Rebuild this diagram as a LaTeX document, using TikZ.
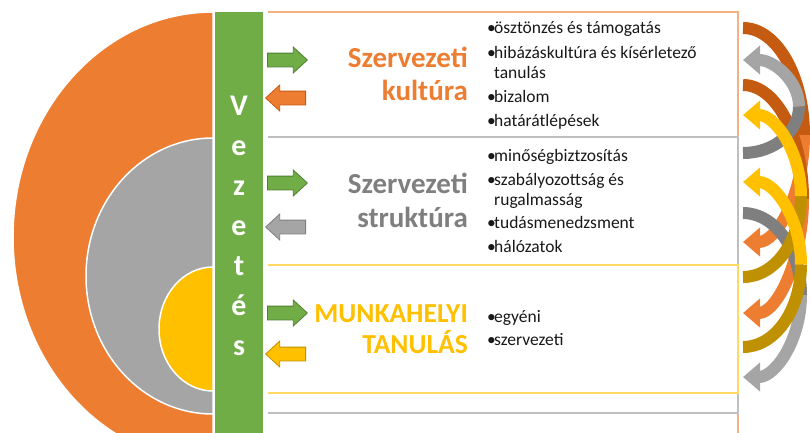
\documentclass[tikz,border=0pt]{standalone}
\usepackage{fontspec}
\setmainfont{Carlito}
\usetikzlibrary{arrows.meta,shapes.arrows}
\definecolor{orangeA}{HTML}{ED7D31}
\definecolor{orangeB}{HTML}{C55A11}
\definecolor{orangeL}{HTML}{F4B183}
\definecolor{grayA}{HTML}{A5A5A5}
\definecolor{grayB}{HTML}{7F7F7F}
\definecolor{grayL}{HTML}{BFBFBF}
\definecolor{goldA}{HTML}{FFC000}
\definecolor{goldB}{HTML}{BF9000}
\definecolor{goldL}{HTML}{FFD966}
\definecolor{greenA}{HTML}{70AD47}
\definecolor{greenB}{HTML}{507E32}
\newcommand{\itembul}{\makebox[7pt][l]{\textbullet}}

\begin{document}
\begin{tikzpicture}[x=1pt, y=-1pt,
  blockR/.style={single arrow, draw, line width=0.8pt, anchor=tail,
    inner xsep=0pt, inner ysep=6.5pt, minimum height=40pt,
    single arrow head extend=6pt, single arrow tip angle=85},
  blockL/.style={blockR, shape border rotate=180},
  letter/.style={anchor=base, inner sep=0pt, text=white,
    font=\fontsize{30}{30}\selectfont\bfseries},
  boxtitle/.style={anchor=base east, inner sep=0pt,
    font=\fontsize{29}{34}\selectfont\bfseries},
  itemtext/.style={anchor=base west, inner sep=0pt, text=black!90,
    font=\fontsize{17.5}{20}\selectfont},
  band/.style={line width=12pt},
  headtip/.style={-{Triangle[width=28pt,length=17pt]}}]
  \useasboundingbox (0,0) rectangle (810,432);

  % nested half discs
  \filldraw[orangeA, draw=white, line width=1.5pt]
    (213,12) arc[start angle=-90, end angle=-270, x radius=200, y radius=225] -- cycle;
  \filldraw[grayA, draw=white, line width=1.5pt]
    (213,138) arc[start angle=-90, end angle=-270, x radius=127, y radius=138] -- cycle;
  \filldraw[goldA, draw=white, line width=1.5pt]
    (213,267) arc[start angle=-90, end angle=-270, x radius=54, y radius=62] -- cycle;

  % leadership bar
  \fill[greenA] (215,12) rectangle (263,440);
  \foreach \ch [count=\i from 0] in {V,e,z,e,t,é,s}
    \node[letter] (v\i) at (239,{115+40*\i}) {\ch};

  % boxes
  \filldraw[orangeL, fill=white, line width=1.2pt] (268,12) -- (738,12) -- (738,445) -- (268,445);
  \filldraw[grayL, fill=white, line width=1.2pt] (268,137) -- (738,137) -- (738,413) -- (268,413);
  \filldraw[goldL, fill=white, line width=1.2pt] (268,265) -- (738,265) -- (738,393) -- (268,393);

  % titles
  \node[boxtitle, text=orangeA] (k1) at (468,67) {Szervezeti};
  \node[boxtitle, text=orangeA] (k2) at (468,100) {kultúra};
  \node[boxtitle, text=grayB] (s1) at (468,193) {Szervezeti};
  \node[boxtitle, text=grayB] (s2) at (468,227) {struktúra};
  \node[boxtitle, text=goldA, font=\fontsize{27.5}{32}\selectfont\bfseries] (m1) at (468,322) {MUNKAHELYI};
  \node[boxtitle, text=goldA, font=\fontsize{27.5}{32}\selectfont\bfseries] (m2) at (468,353) {TANULÁS};

  % bullet lists
  \foreach \yy/\txt [count=\i] in {
      33/{\itembul ösztönzés és támogatás},
      58/{\itembul hibázáskultúra és kísérletező},
      78/{\hspace{7pt}tanulás},
      102/{\itembul bizalom},
      126/{\itembul határátlépések},
      161/{\itembul minőségbiztzosítás},
      185/{\itembul szabályozottság és},
      205/{\hspace{7pt}rugalmasság},
      228/{\itembul tudásmenedzsment},
      252/{\itembul hálózatok},
      322/{\itembul egyéni},
      345/{\itembul szervezeti}}
    \node[itemtext] (b\i) at (487,\yy) {\txt};

  % block arrows
  \node[blockR, fill=greenA, draw=greenB] (gr1) at (267,60) {};
  \node[blockL, fill=orangeA, draw=orangeB] (ol1) at (306,98) {};
  \node[blockR, fill=greenA, draw=greenB] (gr2) at (267,183) {};
  \node[blockL, fill=grayA, draw=grayB] (gl2) at (306,227) {};
  \node[blockR, fill=greenA, draw=greenB] (gr3) at (267,313) {};
  \node[blockL, fill=goldA, draw=goldB] (yl3) at (306,354) {};

  % curved feedback arrows
  \foreach \ys/\ye/\rx/\cb/\cf [count=\i] in {
      28/242/61/orangeB/orangeA,
      85/313/60/orangeB/orangeA,
      153/60/56/grayB/grayA,
      213/377/58/grayB/grayA,
      277/115/58/goldB/goldA,
      347/182/58/goldB/goldA}{
    \pgfmathsetmacro\ry{abs(\ye-\ys)/2}
    \pgfmathsetmacro\sa{(\ye>\ys) ? -90 : 90}
    \pgfmathsetmacro\ea{-\sa}
    \coordinate (t\i) at (743,\ys);
    \draw[band, \cb] (t\i) arc[start angle=\sa, end angle=0, x radius=\rx, y radius=\ry] coordinate (m\i);
    \draw[band, \cf, headtip] (m\i) arc[start angle=0, end angle=\ea, x radius=\rx, y radius=\ry];
  }
\end{tikzpicture}
\end{document}
